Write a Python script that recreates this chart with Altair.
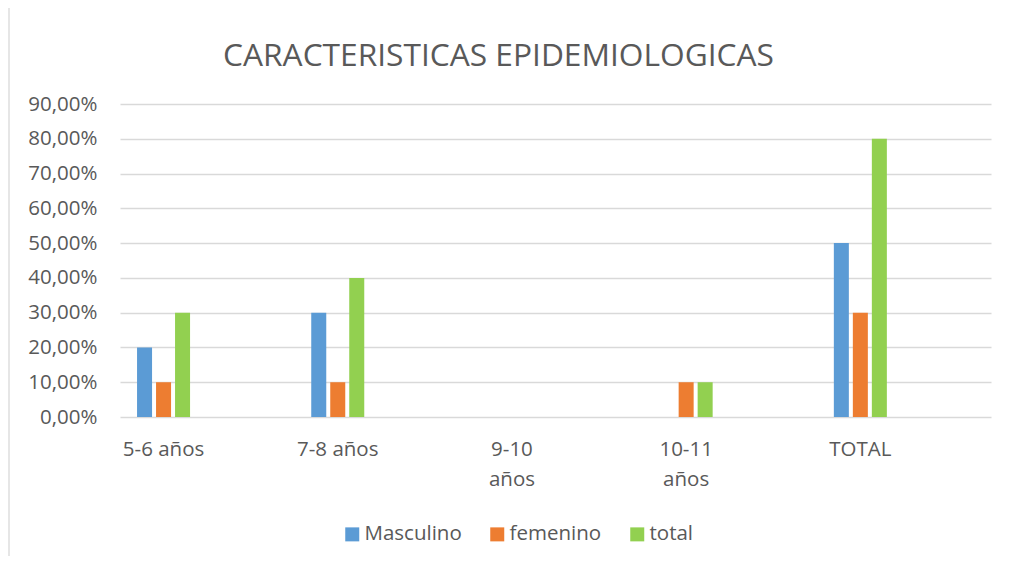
import altair as alt
import pandas as pd

categories = ["5-6 años", "7-8 años", "9-10 años", "10-11 años", "TOTAL"]
series = ["Masculino", "femenino", "total"]
masculino = [20, 30, 0, 0, 50]
femenino = [10, 10, 0, 10, 30]
total = [30, 40, 0, 10, 80]
y_ticks = [0, 10, 20, 30, 40, 50, 60, 70, 80, 90]
colors = ["#5B9BD5", "#ED7D31", "#92D050"]
title_text = "CARACTERISTICAS EPIDEMIOLOGICAS"

rows = []
for name, vals in zip(series, [masculino, femenino, total]):
    for c, v in zip(categories, vals):
        rows.append({"categoria": c, "serie": name, "valor": v})
df = pd.DataFrame(rows)

FONT = "Open Sans"
TXT = "#595959"

bars = alt.Chart(df).mark_bar().encode(
    x=alt.X(
        "categoria:N",
        sort=categories,
        scale=alt.Scale(domain=categories, paddingInner=0.5, paddingOuter=0.25, align=0),
        axis=alt.Axis(
            title=None, labelAngle=0, domain=False, ticks=False, grid=False,
            labelPadding=38, labelBaseline="alphabetic", labelLineHeight=30,
            labelExpr="datum.value == '9-10 años' || datum.value == '10-11 años' ? split(datum.value, ' ') : datum.value",
            labelFontSize=20.5, labelColor=TXT, labelFont=FONT, labelOverlap=False,
        ),
    ),
    xOffset=alt.XOffset(
        "serie:N", sort=series,
        scale=alt.Scale(domain=series, paddingInner=0.21, paddingOuter=0.897),
    ),
    y=alt.Y(
        "valor:Q",
        scale=alt.Scale(domain=[0, 90], nice=False),
        axis=alt.Axis(
            title=None, values=y_ticks, domain=False, ticks=False,
            grid=True, gridColor="#D9D9D9", gridWidth=1.3,
            labelPadding=23, labelFontSize=20.5, labelColor=TXT, labelFont=FONT,
            labelExpr="replace(format(datum.value, '.2f'), '.', ',') + '%'",
        ),
    ),
    color=alt.Color(
        "serie:N",
        scale=alt.Scale(domain=series, range=colors),
        legend=alt.Legend(
            title=None, orient="none", direction="horizontal",
            legendX=222, legendY=420, padding=0,
            symbolType="square", symbolSize=196, symbolStrokeWidth=0,
            labelFontSize=20.5, labelFont=FONT, labelColor=TXT,
            labelOffset=2, columnPadding=25, labelLimit=300,
        ),
    ),
)

border = alt.Chart(pd.DataFrame({"a": [0]})).mark_rule(color="#D9D9D9", strokeWidth=1.3).encode(
    x=alt.value(-111), y=alt.value(-96), y2=alt.value(452)
)

chart = alt.layer(border, bars).properties(
    width=871,
    height=313,
    autosize=alt.AutoSizeParams(type="none"),
    padding={"left": 112, "top": 96, "right": 13, "bottom": 139},
    title=alt.Title(
        title_text, fontSize=31.7, font=FONT, color=TXT, fontWeight="normal",
        anchor="middle", dx=-57, dy=129, offset=39, baseline="alphabetic",
    ),
).configure(background="white").configure_view(stroke=None)

chart.save("out.html", embed_options={"renderer": "svg", "actions": False})
